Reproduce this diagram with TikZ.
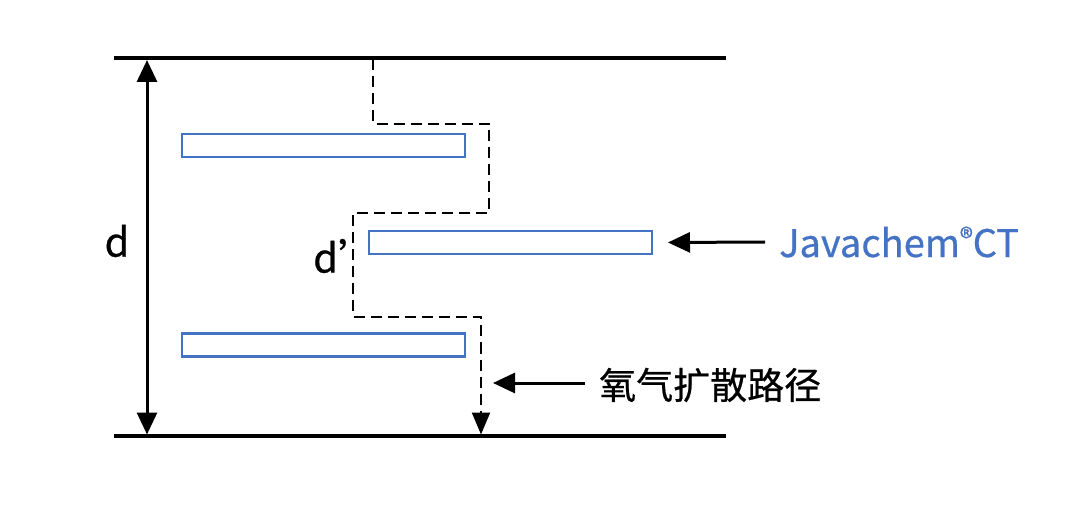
\documentclass[tikz,border=0pt]{standalone}
\usepackage{fontspec}
\setmainfont{Noto Sans CJK SC}[FakeBold=0.6]
\usetikzlibrary{arrows.meta}
\definecolor{jblue}{HTML}{4472C4}
\begin{document}
\begin{tikzpicture}[x=1pt,y=-1pt,
  wall/.style={line width=3.4pt},
  film/.style={draw=jblue,line width=2.8pt,fill=white,minimum width=283pt,minimum height=23pt,inner sep=0pt,outer sep=0pt},
  arr/.style={line width=3pt,-{Triangle[length=22pt,width=20pt]}},
  darr/.style={line width=3pt,{Triangle[length=22pt,width=20pt]}-{Triangle[length=22pt,width=20pt]}},
  path/.style={line width=2.2pt,dash pattern=on 11pt off 6pt},
  patharr/.style={path,-{Triangle[length=22pt,width=18pt]}},
  lbl/.style={inner sep=0pt,font=\fontsize{37}{40}\selectfont},
]
\useasboundingbox (0,0) rectangle (1080,505);
% walls
\coordinate (tl) at (114,58); \coordinate (tr) at (726,58);
\coordinate (bl) at (114,436); \coordinate (br) at (726,436);
\draw[wall] (tl) -- (tr);
\draw[wall] (bl) -- (br);
% films
\node[film] (r1) at (323.5,145.5) {};
\node[film] (r2) at (510.5,242.5) {};
\node[film] (r3) at (323.5,345) {};
% thickness d
\coordinate (dt) at (147,60) ; \coordinate (db) at (147,434.5);
\draw[darr] (dt) -- (db);
\node[lbl,font=\fontsize{40}{44}\selectfont] (d) at (117,241) {d};
% diffusion path
\coordinate (p0) at (373,59.5);
\coordinate (p1) at (373,124);
\coordinate (p2) at (489,124);
\coordinate (p3) at (489,213);
\coordinate (p4) at (353,213);
\coordinate (p5) at (353,317);
\coordinate (p6) at (481,317);
\coordinate (p7) at (481,434.5);
\draw[patharr] (p0) -- (p1) -- (p2) -- (p3) -- (p4) -- (p5) -- (p6) -- (p7);
\node[lbl,font=\fontsize{40}{44}\selectfont,anchor=west] (dp) at (313,256) {d’};
% labels
\node[lbl,anchor=west,text=jblue,font=\fontsize{38}{42}\selectfont] (jv) at (779,242) {Javachem{\fontsize{27}{27}\selectfont\raisebox{9pt}{®}}CT};
\coordinate (ja) at (765,242);
\draw[arr] (ja) -- ([xshift=16pt]r2.east);
\node[lbl,anchor=west] (ox) at (599,385) {氧气扩散路径};
\coordinate (oa) at (585,383);
\coordinate (ob) at (493,383);
\draw[arr] (oa) -- (ob);
\end{tikzpicture}
\end{document}
